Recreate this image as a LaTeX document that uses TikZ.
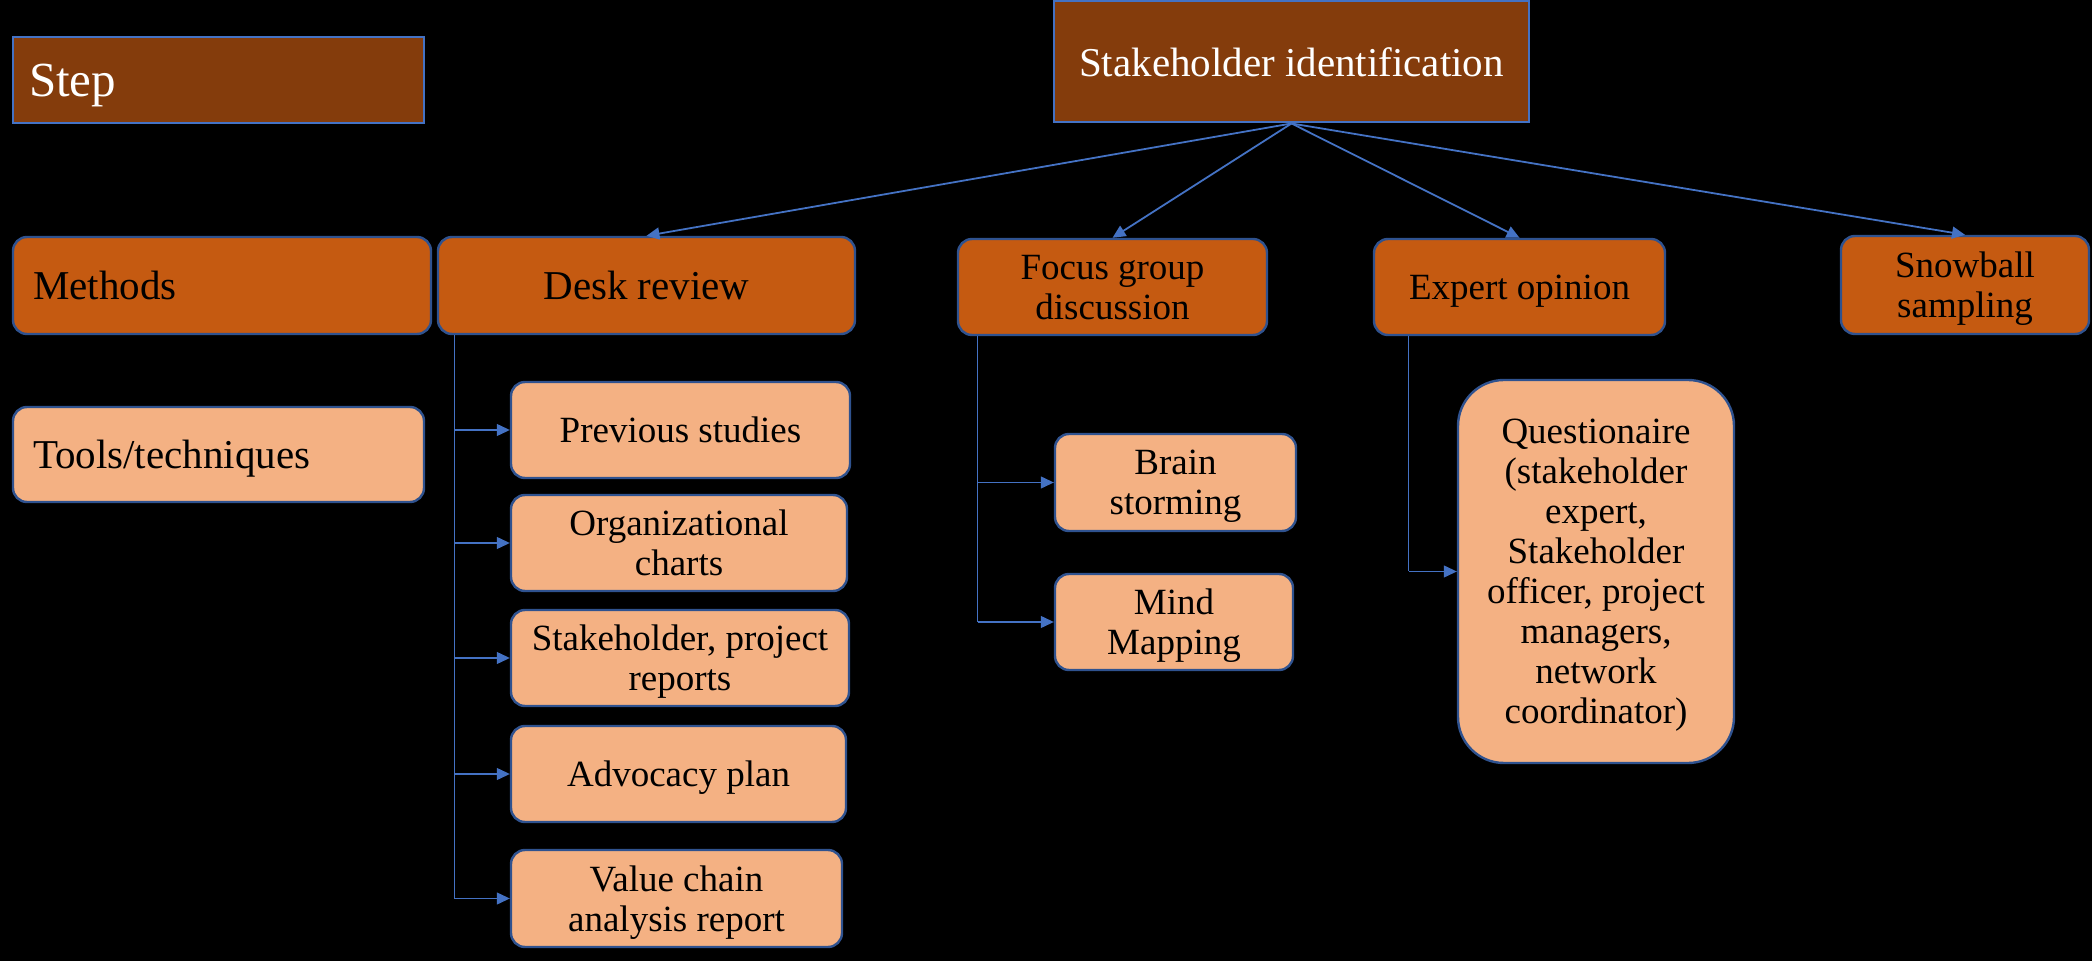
\documentclass[tikz,border=0pt]{standalone}
\usepackage{fontspec}
\setmainfont{Liberation Serif}
\usetikzlibrary{arrows.meta}
\definecolor{stepbrown}{HTML}{843C0C}
\definecolor{methodorange}{HTML}{C55A11}
\definecolor{toolpeach}{HTML}{F4B183}
\definecolor{lineblue}{HTML}{4472C4}
\definecolor{edgeblue}{HTML}{2F528F}
\tikzset{s/.style={font=\fontsize{18.5}{20}\selectfont}}
\tikzset{b/.style={font=\fontsize{20.5}{23}\selectfont}}
\tikzset{
darkbox/.style={draw=lineblue, line width=1pt, fill=stepbrown, text=white, inner sep=0pt, text depth=0pt},
methodbox/.style={draw=edgeblue, line width=1.2pt, fill=methodorange, rounded corners=7pt, align=center, inner sep=0pt, text depth=0pt},
toolbox/.style={draw=edgeblue, line width=1.2pt, fill=toolpeach, rounded corners=7pt, align=center, inner sep=0pt, text depth=0pt},
link/.style={draw=lineblue, line width=0.6pt, -{Triangle[length=6.5pt,width=6pt]}},
trunk/.style={draw=lineblue, line width=0.6pt}
}

\begin{document}
\begin{tikzpicture}[x=0.5pt,y=-0.5pt]
    \fill[black] (0,0) rectangle (2092,961);
    \useasboundingbox (0,0) rectangle (2092,961);
    % legend column
    \node[darkbox, font=\fontsize{24.5}{28}\selectfont, text width=189.5pt, inner xsep=8pt, minimum height=43pt, align=left] (stp) at (218.5,80) {Step};
    \node[methodbox, b, text width=189pt, inner xsep=10pt, minimum height=48.5pt, align=left] (mth) at (222,285.5) {Methods};
    \node[toolbox, b, text width=185.5pt, inner xsep=10pt, minimum height=47.5pt, align=left] (tls) at (218.5,454.5) {Tools/techniques};
    % step and methods
    \node[darkbox, b, align=center, minimum width=237.5pt, minimum height=60.5pt] (sid) at (1291.5,62) {Stakeholder identification};
    \node[methodbox, b, minimum width=208.5pt, minimum height=48.5pt] (desk) at (646.5,285.5) {Desk review};
    \node[methodbox, s, minimum width=154.5pt, minimum height=48pt] (fgd) at (1112.5,287) {Focus group\\discussion};
    \node[methodbox, s, minimum width=145.5pt, minimum height=48pt] (exp) at (1519.5,287) {Expert opinion};
    \node[methodbox, s, minimum width=124pt, minimum height=49pt] (snow) at (1965,285) {Snowball\\sampling};
    % tools
    \node[toolbox, s, minimum width=169.5pt, minimum height=48pt] (prev) at (680.5,430) {Previous studies};
    \node[toolbox, s, minimum width=168pt, minimum height=48pt] (org) at (679,543) {Organizational\\charts};
    \node[toolbox, s, minimum width=169pt, minimum height=48pt] (rep) at (680,658) {Stakeholder, project\\reports};
    \node[toolbox, s, minimum width=167.5pt, minimum height=48pt] (adv) at (678.5,774) {Advocacy plan};
    \node[toolbox, s, minimum width=165.5pt, minimum height=48.5pt] (vc) at (676.5,898.5) {Value chain\\analysis report};
    \node[toolbox, s, minimum width=120.5pt, minimum height=48.5pt] (brain) at (1175.5,482.5) {Brain\\storming};
    \node[toolbox, s, minimum width=119pt, minimum height=48pt] (mind) at (1174,622) {Mind\\Mapping};
    \node[toolbox, s, rounded corners=23pt, minimum width=138pt, minimum height=191.5pt] (quest) at (1596,571.5) {Questionaire\\(stakeholder\\expert,\\Stakeholder\\officer, project\\managers,\\network\\coordinator)};
    % step to methods
    \foreach \m in {desk,fgd,exp,snow}
        \draw[link, line width=0.9pt] (sid.south) -- (\m.north);
    % methods to tools
    \coordinate (dk) at ([xshift=9pt]desk.south west);
    \coordinate (fg) at ([xshift=10.5pt]fgd.south west);
    \coordinate (ex) at ([xshift=18pt]exp.south west);
    \draw[trunk] (dk) -- (dk |- vc.west);
    \foreach \t in {prev,org,rep,adv,vc}
        \draw[link] (dk |- \t.west) -- (\t.west);
    \draw[trunk] (fg) -- (fg |- mind.west);
    \foreach \t in {brain,mind}
        \draw[link] (fg |- \t.west) -- (\t.west);
    \draw[trunk] (ex) -- (ex |- quest.west);
    \draw[link] (ex |- quest.west) -- (quest.west);
\end{tikzpicture}
\end{document}
